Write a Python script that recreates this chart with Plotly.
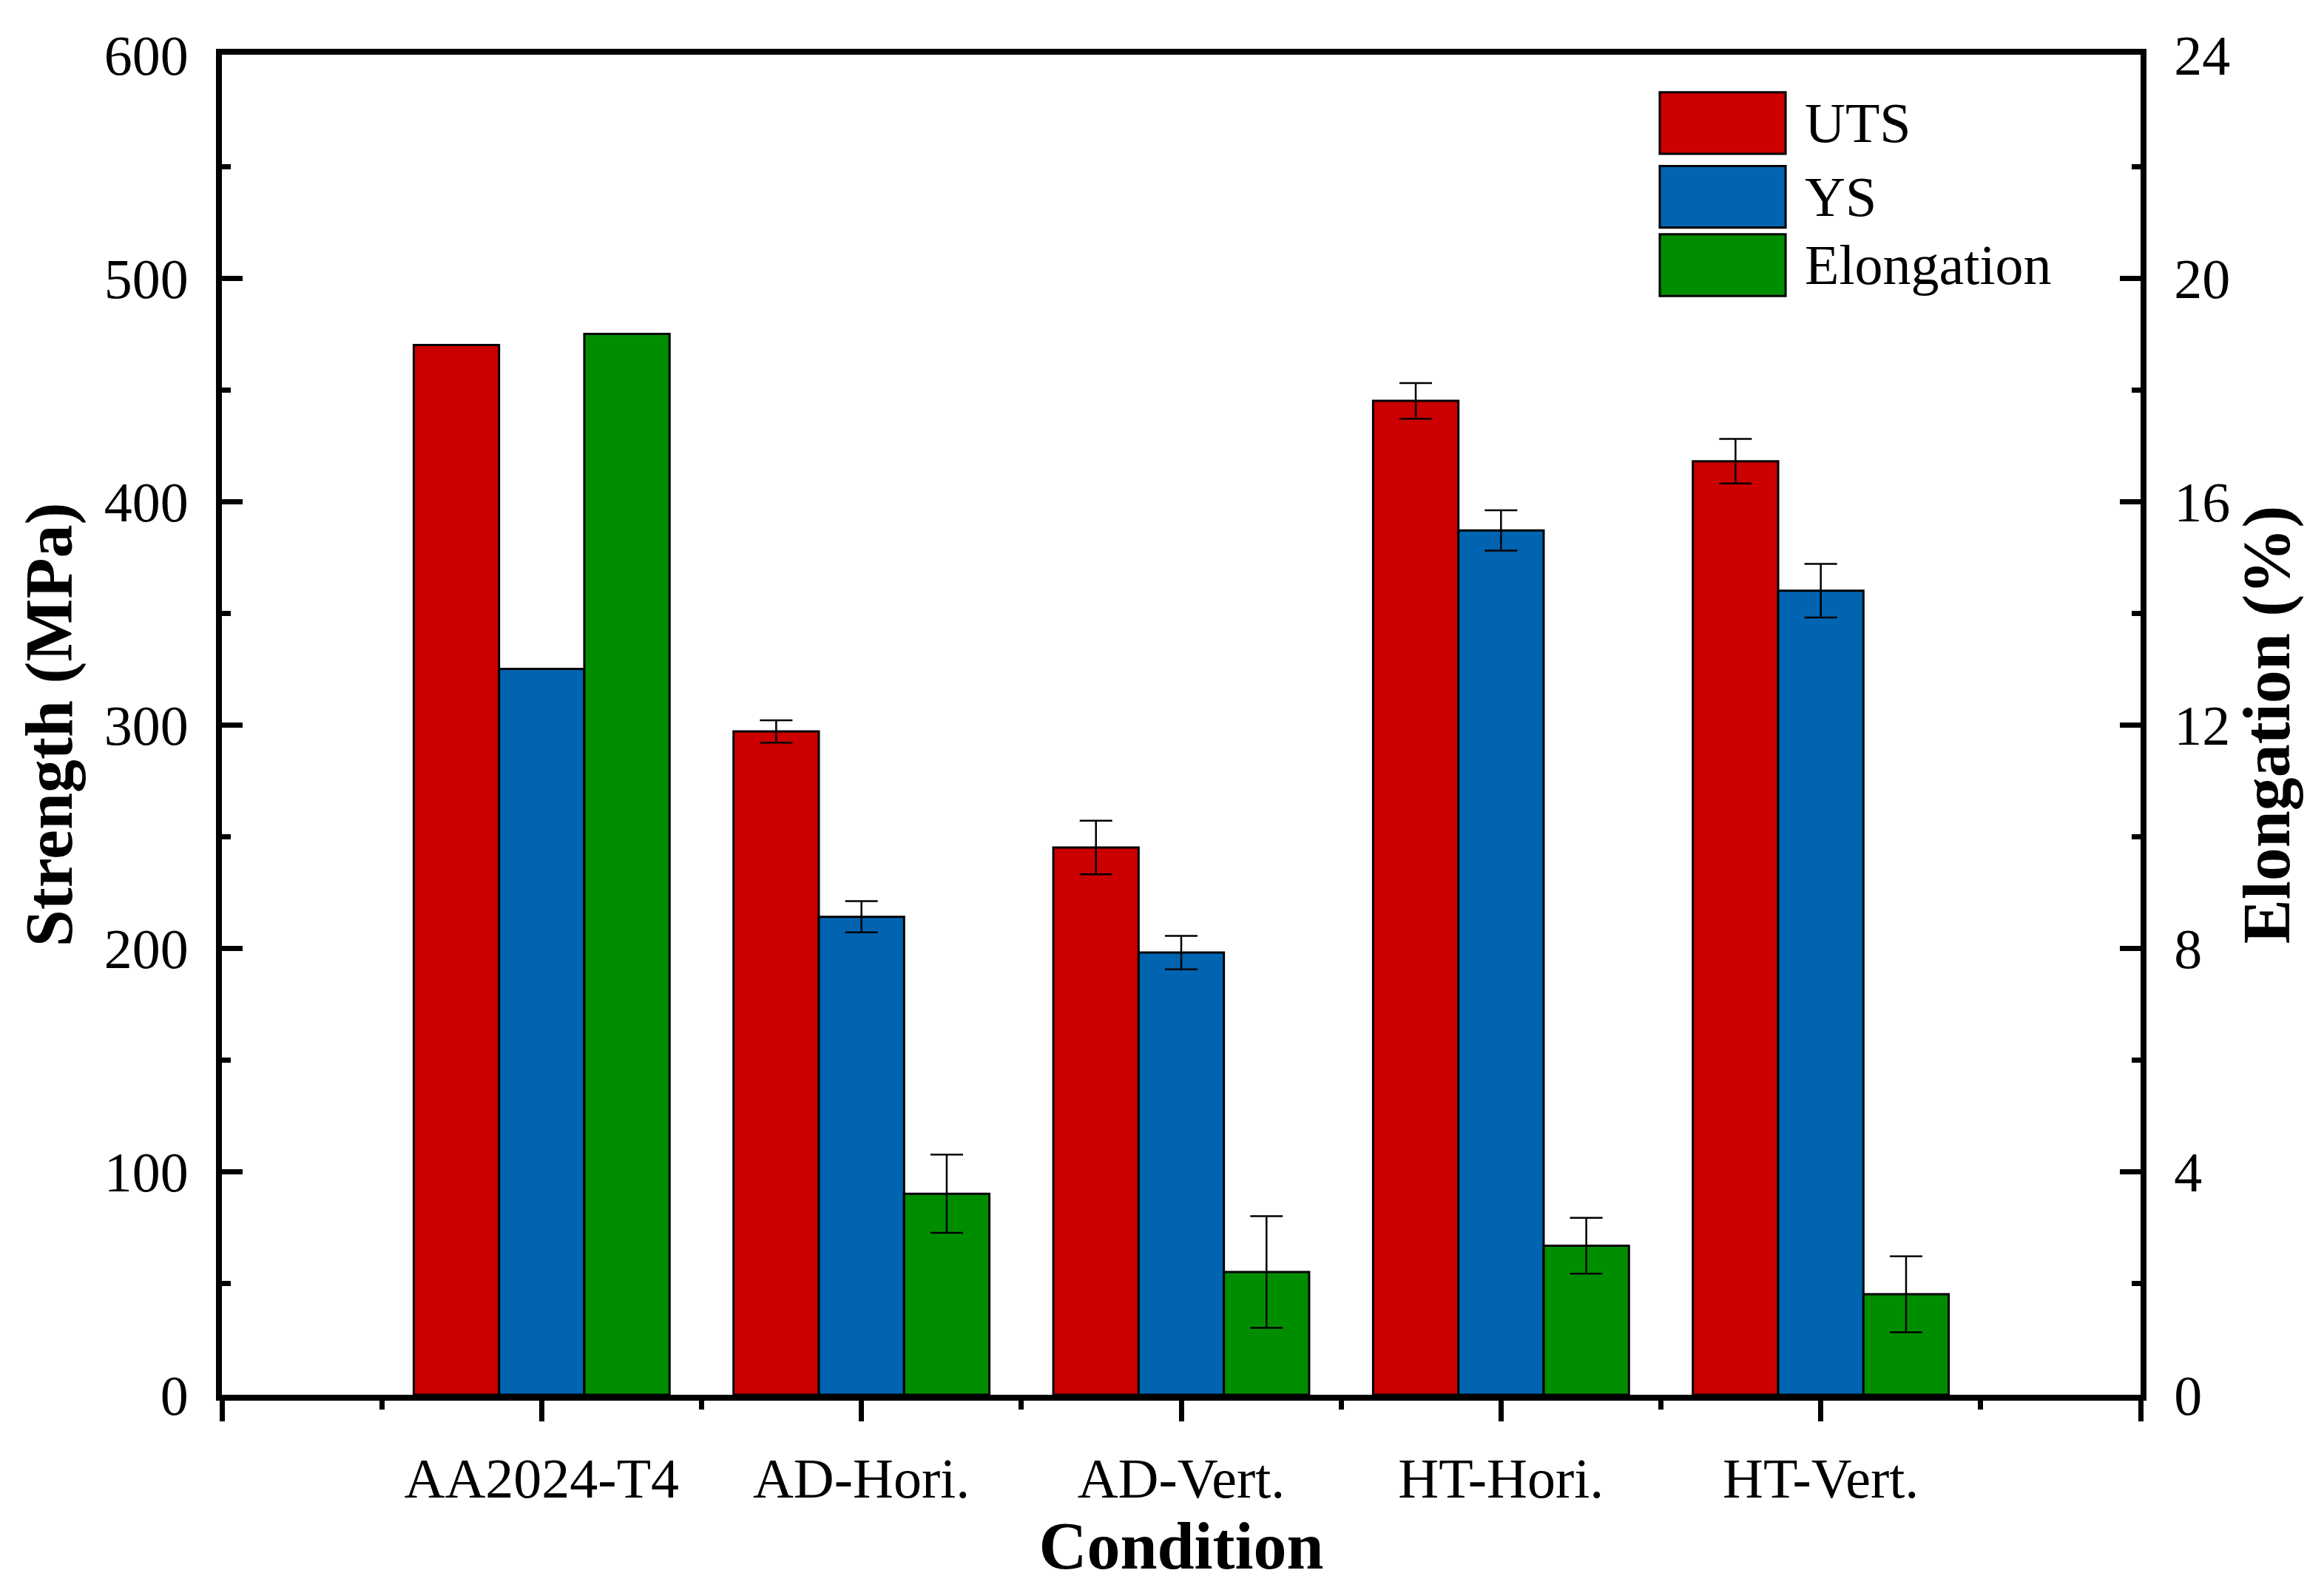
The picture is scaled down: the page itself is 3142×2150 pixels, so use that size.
import plotly.graph_objects as go

conditions = ["AA2024-T4", "AD-Hori.", "AD-Vert.", "HT-Hori.", "HT-Vert."]
series_names = ["UTS", "YS", "Elongation"]

uts = [470, 297, 245, 445, 418]
uts_err = [None, 5, 12, 8, 10]
ys = [325, 214, 198, 387, 360]
ys_err = [None, 7, 7.5, 9, 12]
elong = [19.0, 3.6, 2.2, 2.67, 1.8]
elong_err = [None, 0.7, 1.0, 0.5, 0.68]

colors = ["#CC0000", "#0064B0", "#008E00"]
FONT = "Liberation Serif"

x_pos = list(range(len(conditions)))
bar_w = 0.8 / 3
offsets = [-0.4, -0.4 + bar_w, -0.4 + 2 * bar_w]

def err(vals):
    return [0 if v is None else v for v in vals]

fig = go.Figure()
data_sets = [(uts, uts_err, "y"), (ys, ys_err, "y"), (elong, elong_err, "y2")]
for i, (vals, e, ax) in enumerate(data_sets):
    fig.add_trace(go.Bar(
        x=x_pos, y=vals, name=series_names[i], yaxis=ax,
        width=bar_w, offset=offsets[i],
        marker=dict(color=colors[i], line=dict(color="black", width=3)),
        error_y=dict(type="data", array=err(e), visible=True,
                     color="black", thickness=2.5, width=22),
        showlegend=False,
    ))

fig.update_layout(
    width=3142, height=2150,
    paper_bgcolor="white", plot_bgcolor="white",
    margin=dict(l=292, r=256, t=66, b=272),
    font=dict(family=FONT, size=74, color="black"),
    barmode="overlay",
    xaxis=dict(
        range=[-1, 5], tickmode="array",
        tickvals=list(range(-1, 6)),
        ticktext=[""] + conditions + [""],
        ticks="outside", ticklen=28, tickwidth=7, tickcolor="black",
        minor=dict(dtick=0.5, tick0=-1, ticks="outside", ticklen=12,
                   tickwidth=7, tickcolor="black"),
        showline=True, linewidth=8, linecolor="black", mirror=True,
        showgrid=False, zeroline=False,
        tickfont=dict(size=76), ticklabelstandoff=12,
        title=dict(text="<b>Condition</b>", font=dict(size=90), standoff=10),
    ),
    yaxis=dict(
        range=[0, 600], dtick=100, tick0=0,
        ticks="inside", ticklen=28, tickwidth=7, tickcolor="black",
        minor=dict(dtick=50, ticks="inside", ticklen=12, tickwidth=7,
                   tickcolor="black"),
        showline=True, linewidth=8, linecolor="black",
        showgrid=False, zeroline=False,
        tickfont=dict(size=76), ticklabelstandoff=22,
        title=dict(text="<b>Strength (MPa)</b>", font=dict(size=90), standoff=16),
    ),
    yaxis2=dict(
        range=[0, 24], dtick=4, tick0=0, overlaying="y", side="right",
        ticks="inside", ticklen=28, tickwidth=7, tickcolor="black",
        minor=dict(dtick=2, ticks="inside", ticklen=12, tickwidth=7,
                   tickcolor="black"),
        showline=True, linewidth=8, linecolor="black",
        showgrid=False, zeroline=False,
        tickfont=dict(size=76), ticklabelstandoff=22,
        title=dict(text="<b>Elongation (%)</b>", font=dict(size=90), standoff=16),
    ),
)

# custom legend with large swatches
leg_x0, leg_x1, leg_tx = 0.7494, 0.815, 0.8242
row_top = [0.9720, 0.9170, 0.8660]
row_h = 0.0460
for i, name in enumerate(series_names):
    fig.add_shape(type="rect", xref="paper", yref="paper",
                  x0=leg_x0, x1=leg_x1, y0=row_top[i] - row_h, y1=row_top[i],
                  fillcolor=colors[i], line=dict(color="black", width=3))
    fig.add_annotation(xref="paper", yref="paper", x=leg_tx,
                       y=row_top[i] - row_h / 2, text=name, showarrow=False,
                       xanchor="left", yanchor="middle",
                       font=dict(family=FONT, size=76, color="black"))

fig.write_html("out.html")
